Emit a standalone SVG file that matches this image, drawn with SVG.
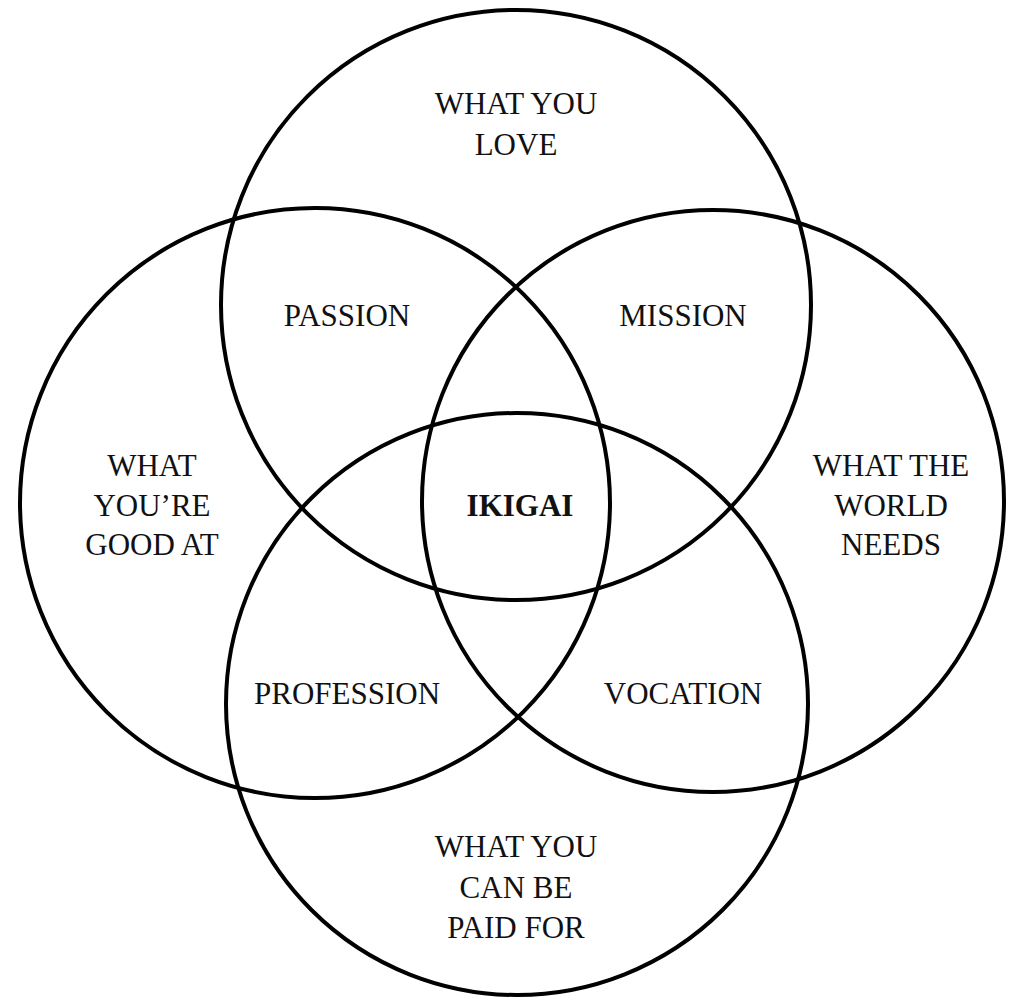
<svg xmlns="http://www.w3.org/2000/svg" width="1010" height="999" viewBox="0 0 1010 999">
<style>
.c{fill:none;stroke:#000;stroke-width:4}
.t{font-family:"Liberation Serif","DejaVu Serif",serif;font-size:31px;fill:#111;text-anchor:middle}
.b{font-weight:bold}
</style>
<rect width="1010" height="999" fill="#fff"/>
<g id="circles">
<circle id="love" class="c" cx="516" cy="305" r="295"/>
<circle id="good" class="c" cx="315" cy="503" r="295"/>
<circle id="world" class="c" cx="713" cy="501" r="291"/>
<circle id="paid" class="c" cx="517" cy="704" r="291"/>
</g>
<g id="labels">
<text class="t" x="516" y="114">WHAT YOU</text>
<text class="t" x="516" y="155">LOVE</text>
<text class="t" x="347" y="326">PASSION</text>
<text class="t" x="683" y="326">MISSION</text>
<text class="t" x="152" y="476">WHAT</text>
<text class="t" x="152" y="516">YOU’RE</text>
<text class="t" x="152" y="555">GOOD AT</text>
<text class="t" x="891" y="476">WHAT THE</text>
<text class="t" x="891" y="516">WORLD</text>
<text class="t" x="891" y="555">NEEDS</text>
<text class="t b" x="520" y="516">IKIGAI</text>
<text class="t" x="347" y="704">PROFESSION</text>
<text class="t" x="683" y="704">VOCATION</text>
<text class="t" x="516" y="857">WHAT YOU</text>
<text class="t" x="516" y="898">CAN BE</text>
<text class="t" x="516" y="938">PAID FOR</text>
</g>
</svg>
